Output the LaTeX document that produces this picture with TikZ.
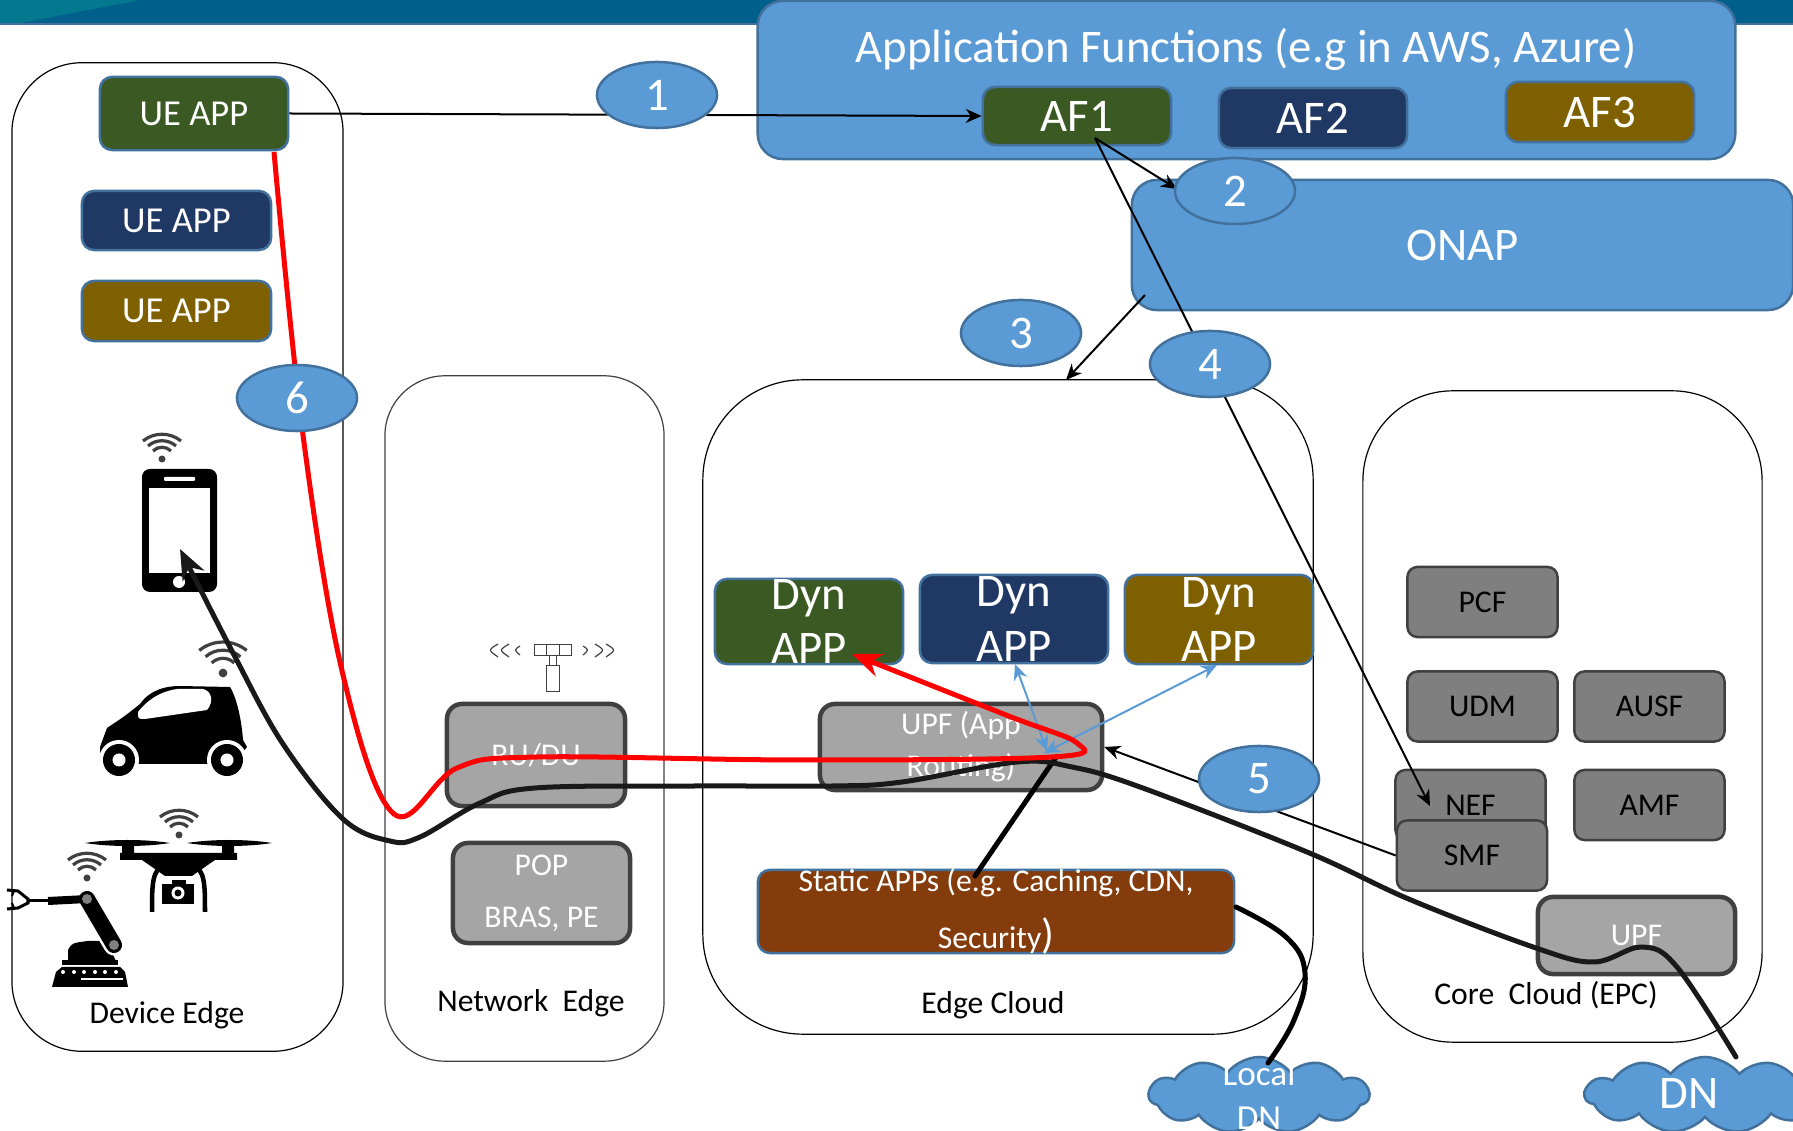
\documentclass[tikz,border=0pt]{standalone}
\usepackage{fontspec}
\setmainfont{Carlito}
\usepackage{tikz}
\usetikzlibrary{shapes.geometric,shapes.symbols,arrows.meta}
\definecolor{bandblue}{HTML}{00608C}
\definecolor{bandteal}{HTML}{04788F}
\definecolor{lightblue}{HTML}{5B9BD5}
\definecolor{edgeblue}{HTML}{41719C}
\definecolor{appgreen}{HTML}{3B5A23}
\definecolor{appnavy}{HTML}{203864}
\definecolor{appyellow}{HTML}{7F6000}
\definecolor{appbrown}{HTML}{843C0C}
\definecolor{midgray}{HTML}{A5A5A5}
\definecolor{darkgray}{HTML}{7F7F7F}
\definecolor{bordergray}{HTML}{404040}
\tikzset{
	bigfont/.style={font=\fontsize{13.3}{15.6}\selectfont},
	midfont/.style={font=\fontsize{10.4}{12.5}\selectfont},
	smallfont/.style={font=\fontsize{9}{11.9}\selectfont},
	appbox/.style={draw=edgeblue,line width=.025cm,rounded corners=.12cm,inner sep=0pt,text=white},
	bluebox/.style={draw=edgeblue,fill=lightblue,line width=.025cm,rounded corners=.25cm,inner sep=0pt,text=white},
	graybox/.style={draw=bordergray,fill=midgray,line width=.045cm,rounded corners=.15cm,inner sep=0pt,text=white,smallfont},
	corebox/.style={draw=bordergray,fill=darkgray,line width=.025cm,rounded corners=.1cm,inner sep=0pt,minimum width=1.5cm,minimum height=.7cm,text=black,smallfont},
	step circle/.style={ellipse,draw=edgeblue,fill=lightblue,line width=.025cm,inner sep=0pt,minimum width=1.2cm,minimum height=.66cm,text=white,bigfont},
	zone/.style={draw=black,line width=.012cm,inner sep=0pt},
	thinarrow/.style={draw=black,line width=.02cm,->},
	bluearrow/.style={draw=lightblue,line width=.02cm,<->},
	blackflow/.style={draw=black!90,line width=.05cm,-{Stealth[length=.3cm,width=.24cm]},line cap=round},
	redflow/.style={draw=red,line width=.05cm,-{Stealth[length=.3cm,width=.24cm]}},
	cloudbox/.style={cloud,cloud puffs=11,cloud puff arc=105,aspect=2.8,draw=edgeblue,fill=lightblue,line width=.025cm,inner sep=0pt,text=white},
	wifi/.pic={
		\fill[bordergray](0,0) circle (.035cm);
		\draw[bordergray,line width=.032cm](-9,-8) .. controls (-4,-13) and (4,-13) .. (9,-8);
		\draw[bordergray,line width=.032cm](-14,-13) .. controls (-6,-20) and (6,-20) .. (14,-13);
		\draw[bordergray,line width=.032cm](-19,-18) .. controls (-8,-27) and (8,-27) .. (19,-18);
	}
}
\begin{document}
\begin{tikzpicture}[x=.01cm,y=-.01cm,>={Stealth[length=.16cm,width=.14cm]}]
	\useasboundingbox(0,0) rectangle (1793,1131);
	\fill[bandblue](0,0) rectangle (1793,23);
	\fill[bandteal](0,0) -- (140,0) -- (20,23) -- (0,23) -- cycle;
	\fill[edgeblue](0,23) rectangle (1793,25);
	
	\node[zone,rounded corners=.7cm,minimum width=3.31cm,minimum height=9.88cm](deviceedge) at(177.5,557){};
	\node[zone,draw=bordergray,rounded corners=.6cm,minimum width=2.79cm,minimum height=6.85cm](networkedge) at(524.5,718.5){};
	\node[zone,rounded corners=1cm,minimum width=6.1cm,minimum height=6.54cm](edgecloud) at(1008,707){};
	\node[zone,rounded corners=.9cm,minimum width=3.99cm,minimum height=6.51cm](corecloud) at(1562.5,716.5){};
	
	\node[smallfont](devicelabel) at(167,1015){Device Edge};
	\node[smallfont](networklabel) at(531,1003){Network\ \ Edge};
	\node[smallfont](edgelabel) at(993,1005){Edge Cloud};
	\node[smallfont](corelabel) at(1546,995){Core\ \ Cloud (EPC)};
	
	\node[bluebox,minimum width=9.77cm,minimum height=1.58cm](appfunctions) at(1246.5,80){};
	\node[text=white,bigfont](apptitle) at(1246,49){Application Functions (e.g in AWS, Azure)};
	\node[bluebox,minimum width=6.61cm,minimum height=1.3cm,bigfont](onap) at(1462.5,245){ONAP};
	
	\node[appbox,fill=appgreen,minimum width=1.88cm,minimum height=.73cm,midfont](ueappgreen) at(194,113.5){UE APP};
	\node[appbox,fill=appnavy,minimum width=1.89cm,minimum height=.59cm,midfont](ueappnavy) at(176.5,220.5){UE APP};
	\node[appbox,fill=appyellow,minimum width=1.89cm,minimum height=.6cm,midfont](ueappyellow) at(176.5,311){UE APP};
	
	\node[appbox,fill=appgreen,minimum width=1.88cm,minimum height=.58cm,bigfont](af1) at(1077,116){AF1};
	\node[appbox,fill=appnavy,minimum width=1.88cm,minimum height=.6cm,bigfont](af2) at(1313,118){AF2};
	\node[appbox,fill=appyellow,minimum width=1.88cm,minimum height=.6cm,bigfont](af3) at(1600,112){AF3};
	
	\node[appbox,fill=appgreen,minimum width=1.88cm,minimum height=.85cm,label={[text=white,bigfont,align=center]center:Dyn\\APP}](dyngreen) at(809,621.5){};
	\node[appbox,fill=appnavy,minimum width=1.88cm,minimum height=.88cm,label={[text=white,bigfont,align=center]center:Dyn\\APP}](dynnavy) at(1014,619){};
	\node[appbox,fill=appyellow,minimum width=1.88cm,minimum height=.89cm,label={[text=white,bigfont,align=center]center:Dyn\\APP}](dynyellow) at(1219,619.5){};
	
	\node[graybox,minimum width=1.78cm,minimum height=1.02cm](rudu) at(536,755){RU/DU};
	\node[graybox,minimum width=1.77cm,minimum height=1cm,align=center](pop) at(541.5,893){POP\\[.1cm]BRAS, PE};
	\node[graybox,minimum width=2.82cm,minimum height=.86cm,label={[text=white,smallfont,align=center]center:UPF (App\\Routing)}](upfapp) at(961,747){};
	\node[appbox,fill=appbrown,minimum width=4.76cm,minimum height=.83cm,label={[text=white,smallfont,align=center]center:{Static APPs (e.g. Caching, CDN,\\[.15cm]Security{\fontsize{12}{12}\selectfont)}}}](staticapps) at(996,911.5){};
	
	\node[corebox](pcf) at(1482.5,602){PCF};
	\node[corebox](udm) at(1482.5,706.5){UDM};
	\node[corebox](ausf) at(1649.5,706.5){AUSF};
	\node[corebox](nef) at(1470.5,805){NEF};
	\node[corebox](amf) at(1649.5,805){AMF};
	\node[corebox](smf) at(1472,855.5){SMF};
	\node[graybox,minimum width=1.97cm,minimum height=.77cm](upfcore) at(1636.5,935.5){UPF};
	
	\node[cloudbox,minimum width=2.2cm,minimum height=.76cm,label={[text=white,align=center,font=\fontsize{10}{12.5}\selectfont]center:Local\\DN}](localdn) at(1259,1095){};
	\node[cloudbox,minimum width=2.4cm,minimum height=.76cm,bigfont](dn) at(1705,1095){};
	\node[text=white,bigfont](dnlabel) at(1689,1093){DN};
	
	\fill(142,475) rectangle (217,586);
	\fill[rounded corners=.08cm](142,469) rectangle (217,592);
	\fill[white](149,488) rectangle (210,573);
	\fill[white,rounded corners=.01cm](164,477) rectangle (195,481);
	\fill[white](179,582) circle (.06cm);
	\pic at(162,459){wifi};
	
	\fill(100,747) -- (107,728) .. controls (125,716) .. (140,704) .. controls (150,690) and (165,686) .. (180,686) -- (230,687) .. controls (238,700) and (242,725) .. (243,740) -- (247,747) -- (243,752) -- (243,764) -- (100,764) -- cycle;
	\fill[white](138,712) .. controls (145,703) and (157,692) .. (177,689) -- (203,689) .. controls (212,691) and (214,702) .. (207,710) -- (145,719) .. controls (138,719) .. (138,712) -- cycle;
	\fill[white](119,760) circle (.2cm) (227,760) circle (.2cm);
	\fill(119,760) circle (.16cm) (227,760) circle (.16cm);
	\fill[white](119,760) circle (.065cm) (227,760) circle (.065cm);
	\pic[scale=1.25] at(223,673){wifi};
	
	\fill(85,843) .. controls (110,839) and (145,839) .. (170,843) .. controls (145,847) and (110,847) .. (85,843) -- cycle;
	\fill(187,843) .. controls (212,839) and (247,839) .. (272,843) .. controls (247,847) and (212,847) .. (187,843) -- cycle;
	\fill(122,841) rectangle (134,856) (222,841) rectangle (234,856);
	\fill(120,853) -- (237,853) -- (237,860) -- (215,860) -- (192,876) -- (165,876) -- (142,860) -- (120,860) -- cycle;
	\draw[line width=.045cm](165,866) .. controls (152,868) and (152,885) .. (152,912);
	\draw[line width=.045cm](192,866) .. controls (205,868) and (205,885) .. (205,912);
	\fill(162,884) rectangle (194,904);
	\fill(172,880) rectangle (186,886);
	\fill[white](178,893) circle (.065cm);
	\fill(178,893) circle (.035cm);
	\pic at(179,835){wifi};
	
	\fill(52,987) -- (56,972) -- (62,967) -- (120,967) -- (125,972) -- (128,987) -- cycle;
	\foreach \dotx in {63,74,84,95,105,116}
		\fill[white](\dotx,972) circle (.02cm);
	\fill[white](81,978) rectangle (123,980);
	\fill(62,960) rectangle (118,965);
	\fill(68,961) -- (68,950) .. controls (72,943) .. (88,941) -- (106,941) -- (116,961) -- cycle;
	\draw[white,line width=.21cm,line cap=round](87,899) -- (114,945);
	\draw[line width=.16cm,line cap=round](87,899) -- (114,945);
	\draw[line width=.08cm](87,899) -- (48,901);
	\draw[line width=.03cm](48,901) -- (28,901);
	\draw[line width=.03cm](7,890) -- (18,891) -- (28,899) -- (28,903) -- (18,908) -- (7,909);
	\draw[line width=.02cm](14,891) -- (12,896) (14,908) -- (12,903);
	\fill[gray](87,899) circle (.05cm) (114,945) circle (.05cm);
	\pic at(87,878){wifi};
	
	\draw[bordergray,line width=.01cm](534,645) rectangle (571,656);
	\draw[bordergray,line width=.01cm](546,645) -- (546,656) (559,645) -- (559,656);
	\draw[bordergray,line width=.01cm](549,656) rectangle (556,666);
	\draw[bordergray,line width=.01cm](546,666) rectangle (559,692);
	\draw[bordergray,line width=.012cm](498,644) .. controls (488,650) .. (498,657);
	\draw[bordergray,line width=.012cm](509,644) .. controls (499,650) .. (509,657);
	\draw[bordergray,line width=.012cm](520,646) .. controls (514,650) .. (520,655);
	\draw[bordergray,line width=.012cm](583,646) .. controls (589,650) .. (583,655);
	\draw[bordergray,line width=.012cm](595,644) .. controls (605,650) .. (595,657);
	\draw[bordergray,line width=.012cm](606,644) .. controls (616,650) .. (606,657);
	
	\coordinate(af1foot) at(1095,138);
	\coordinate(onapfoot) at(1145,295);
	\coordinate(edgetop) at(1066,380);
	\coordinate(neftip) at(1430,806);
	\coordinate(blueupf) at(1047,751);
	\coordinate(yellowupf) at(1044,753);
	\coordinate(navyfoot) at(1015,664);
	\coordinate(yellowfoot) at(1217,665);
	\coordinate(phonetip) at(180,549);
	\coordinate(dntip) at(1736,1057);
	\coordinate(redtip) at(852,654);
	\coordinate(uetip) at(274,152);
	\coordinate(staticjoin) at(1056,757);
	\coordinate(statictop) at(975,876);
	\coordinate(staticside) at(1236,907);
	\coordinate(localtop) at(1268,1063);
	
	\draw[thinarrow](ueappgreen.east) -- (af1.west);
	\draw[thinarrow](af1foot) -- (1177,189);
	\draw[thinarrow](af1foot) -- (neftip);
	\draw[thinarrow](onapfoot) -- (edgetop);
	\draw[thinarrow](smf.west) -- (upfapp.east);
	\draw[bluearrow](navyfoot) -- (blueupf);
	\draw[bluearrow](yellowfoot) -- (yellowupf);
	
	\draw[draw=black,line width=.05cm,line cap=round](statictop) -- (staticjoin);
	\draw[draw=black,line width=.05cm,line cap=round]plot[smooth,tension=.7] coordinates {(staticside) (1286,937) (1305,973) (1294,1020) (localtop)};
	\draw[blackflow]plot[smooth,tension=.6] coordinates {(dntip) (1677,967) (1642,947) (1594,962) (1536,948) (1411,900) (1307,852) (1140,787) (1072,767) (1017,762) (902,782) (833,786) (695,786) (535,788) (480,803) (420,837) (390,841) (343,819) (283,744) (233,653) (phonetip)};
	\draw[redflow]plot[smooth,tension=.6] coordinates {(uetip) (303,435) (343,675) (394,814) (457,768) (537,757) (800,760) (1052,757) (1077,743) (1006,715) (redtip)};
	
	\node[step circle](step1) at(657,95){1};
	\node[step circle](step2) at(1235,191){2};
	\node[step circle](step3) at(1021,333){3};
	\node[step circle](step4) at(1210,364){4};
	\node[step circle](step5) at(1259,779){5};
	\node[step circle](step6) at(297,398){6};
\end{tikzpicture}
\end{document}
